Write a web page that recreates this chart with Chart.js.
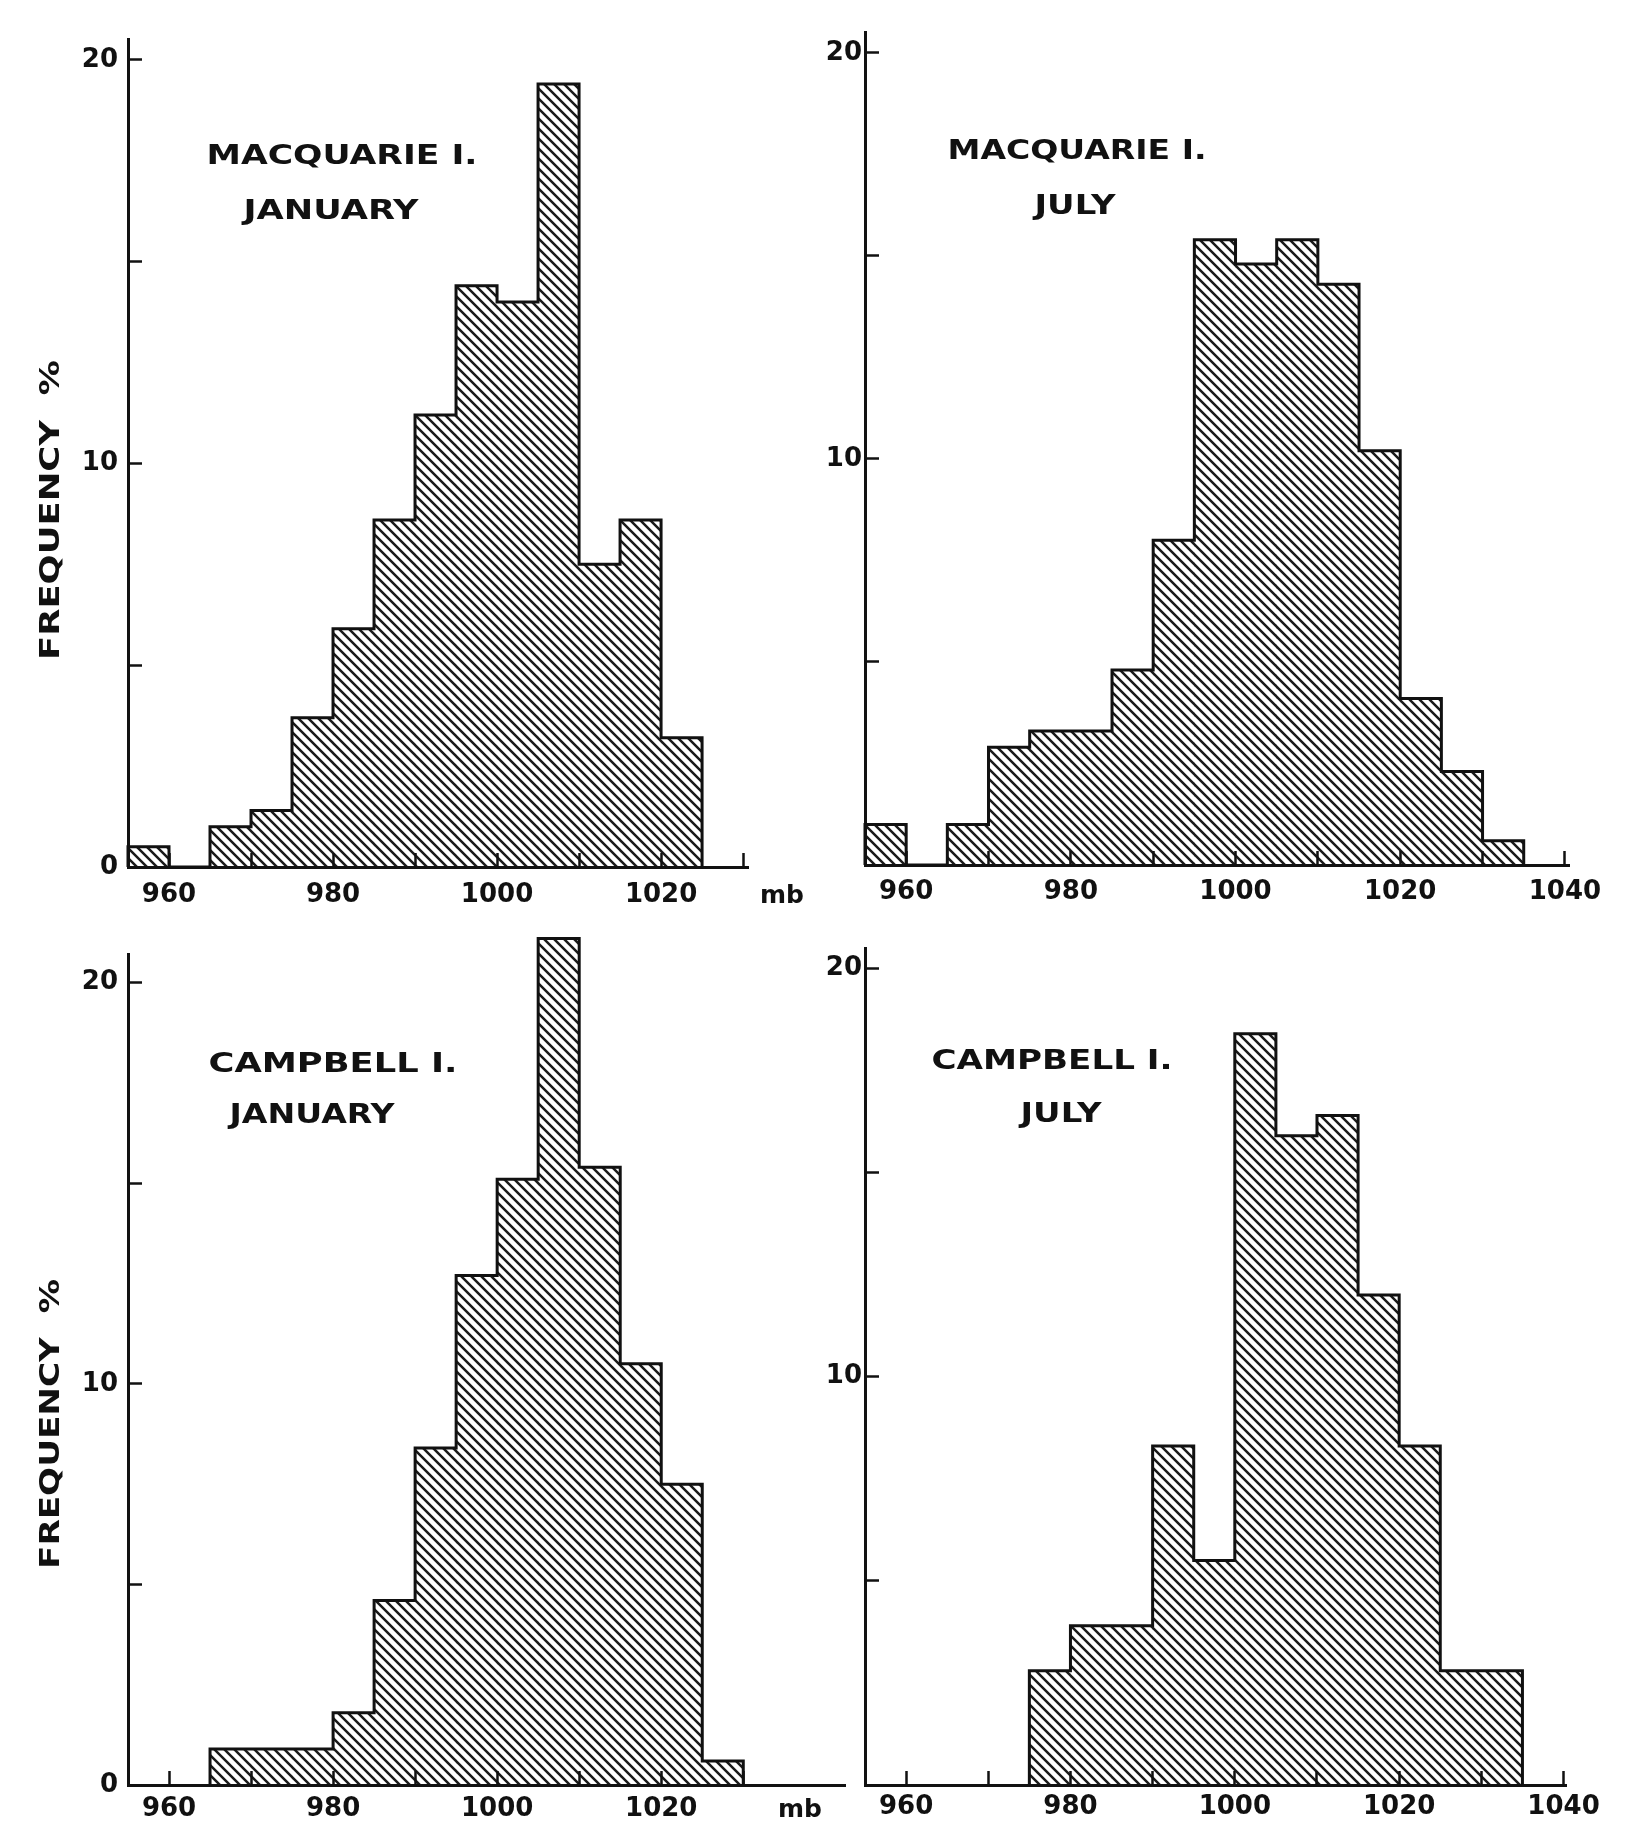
<!DOCTYPE html>
<html>
<head>
<meta charset="utf-8">
<script src="https://cdn.jsdelivr.net/npm/chart.js@4.4.0/dist/chart.umd.min.js"></script>
<style>
    html, body { margin: 0; padding: 0; background: #fff; }
    body { position: relative; width: 1639px; height: 1827px; overflow: hidden; }
    .panel { position: absolute; }
</style>
</head>
<body>
<div class="panel" id="w-mj"><canvas id="c-mj"></canvas></div>
<div class="panel" id="w-mu"><canvas id="c-mu"></canvas></div>
<div class="panel" id="w-cj"><canvas id="c-cj"></canvas></div>
<div class="panel" id="w-cu"><canvas id="c-cu"></canvas></div>
<script>
// --- Data: bin starts (mb, bins 5 mb wide) and frequency % ---
const BIN = 5;

const macquarieJanBins = [955, 960, 965, 970, 975, 980, 985, 990, 995, 1000, 1005, 1010, 1015, 1020];
const macquarieJanFreq = [0.5, 0, 1.0, 1.4, 3.7, 5.9, 8.6, 11.2, 14.4, 14.0, 19.4, 7.5, 8.6, 3.2];

const macquarieJulBins = [955, 960, 965, 970, 975, 980, 985, 990, 995, 1000, 1005, 1010, 1015, 1020, 1025, 1030];
const macquarieJulFreq = [1.0, 0, 1.0, 2.9, 3.3, 3.3, 4.8, 8.0, 15.4, 14.8, 15.4, 14.3, 10.2, 4.1, 2.3, 0.6];

const campbellJanBins = [965, 970, 975, 980, 985, 990, 995, 1000, 1005, 1010, 1015, 1020, 1025];
const campbellJanFreq = [0.9, 0.9, 0.9, 1.8, 4.6, 8.4, 12.7, 15.1, 21.1, 15.4, 10.5, 7.5, 0.6];

const campbellJulBins = [975, 980, 985, 990, 995, 1000, 1005, 1010, 1015, 1020, 1025, 1030];
const campbellJulFreq = [2.8, 3.9, 3.9, 8.3, 5.5, 18.4, 15.9, 16.4, 12.0, 8.3, 2.8, 2.8];

// --- Tick values ---
const xTicksJan = [960, 970, 980, 990, 1000, 1010, 1020, 1030];
const xTicksJul = [960, 970, 980, 990, 1000, 1010, 1020, 1030, 1040];
const xLabelled = [960, 980, 1000, 1020, 1040];
const yTicks = [0, 5, 10, 15, 20];

const ink = '#111';
const tickFont = { family: 'DejaVu Sans', size: 26, weight: 'bold' };
const textFont = 'bold 27px "DejaVu Sans"';

// diagonal hatching used to fill the bars
function makeHatch() {
    const c = document.createElement('canvas');
    c.width = 10; c.height = 10;
    const g = c.getContext('2d');
    g.strokeStyle = '#1a1a1a';
    g.lineWidth = 2.5;
    g.beginPath();
    g.moveTo(-2, -2); g.lineTo(12, 12);
    g.moveTo(-2, 8); g.lineTo(2, 12);
    g.moveTo(8, -2); g.lineTo(12, 2);
    g.stroke();
    return g.createPattern(c, 'repeat');
}
const hatch = makeHatch();

// writes a label stretched sideways to a given width (wide lettering of the original)
function wideText(ctx, text, w) {
    const natural = ctx.measureText(text).width;
    const sx = w ? w / natural : 1;
    ctx.scale(sx, 1);
    ctx.textAlign = 'center';
    ctx.fillText(text, 0, 0);
}

function textPlugin(p) {
    return {
        id: 'panelText',
        afterDraw(chart) {
            const ctx = chart.ctx;
            ctx.save();
            ctx.fillStyle = ink;
            ctx.font = textFont;
            ctx.textBaseline = 'middle';
            p.texts.forEach(it => {
                ctx.save();
                ctx.translate(it.x - p.box.left, it.y - p.box.top);
                if (it.rot) ctx.rotate(-Math.PI / 2);
                if (it.font) ctx.font = it.font;
                wideText(ctx, it.t, it.w);
                ctx.restore();
            });
            ctx.restore();
        }
    };
}

// --- Panels (page pixel layout) ---
const panels = [
    {
        id: 'mj', bins: macquarieJanBins, freq: macquarieJanFreq, xTicks: xTicksJan, yLabels: [0, 10, 20],
        box: { left: 0, top: 0, width: 830, height: 915 },
        area: { left: 128, top: 22, right: 748, bottom: 867 },
        xMax: 1030.6, yMax: 20.5, xPad: 27, yPad: 24,
        texts: [
            { t: 'MACQUARIE I.', x: 342, y: 157, w: 271 },
            { t: 'JANUARY', x: 331, y: 212, w: 175 },
            { t: 'mb', x: 782, y: 896, font: 'bold 25px "DejaVu Sans"' },
            { t: 'FREQUENCY  %', x: 52, y: 510, w: 300, rot: true }
        ]
    },
    {
        id: 'mu', bins: macquarieJulBins, freq: macquarieJulFreq, xTicks: xTicksJul, yLabels: [10, 20],
        box: { left: 790, top: 0, width: 849, height: 915 },
        area: { left: 865, top: 21, right: 1569, bottom: 865 },
        xMax: 1040.5, yMax: 20.5, xPad: 26, yPad: 17,
        texts: [
            { t: 'MACQUARIE I.', x: 1077, y: 152, w: 259 },
            { t: 'JULY', x: 1075, y: 207, w: 81 }
        ]
    },
    {
        id: 'cj', bins: campbellJanBins, freq: campbellJanFreq, xTicks: xTicksJan, yLabels: [0, 10, 20],
        box: { left: 0, top: 915, width: 850, height: 912 },
        area: { left: 128, top: 943, right: 845, bottom: 1785 },
        xMax: 1042.4, yMax: 20.7, xPad: 23, yPad: 24,
        texts: [
            { t: 'CAMPBELL I.', x: 333, y: 1065, w: 249 },
            { t: 'JANUARY', x: 312, y: 1116, w: 165 },
            { t: 'mb', x: 800, y: 1810, font: 'bold 25px "DejaVu Sans"' },
            { t: 'FREQUENCY  %', x: 52, y: 1424, w: 290, rot: true }
        ]
    },
    {
        id: 'cu', bins: campbellJulBins, freq: campbellJulFreq, xTicks: xTicksJul, yLabels: [10, 20],
        box: { left: 790, top: 915, width: 849, height: 912 },
        area: { left: 865, top: 948, right: 1566, bottom: 1785 },
        xMax: 1040.3, yMax: 20.5, xPad: 21, yPad: 17,
        texts: [
            { t: 'CAMPBELL I.', x: 1052, y: 1062, w: 241 },
            { t: 'JULY', x: 1061, y: 1115, w: 81 }
        ]
    }
];

function makeChart(p) {
    const wrap = document.getElementById('w-' + p.id);
    wrap.style.left = p.box.left + 'px';
    wrap.style.top = p.box.top + 'px';
    const canvas = document.getElementById('c-' + p.id);
    canvas.width = p.box.width;
    canvas.height = p.box.height;
    canvas.style.width = p.box.width + 'px';
    canvas.style.height = p.box.height + 'px';

    const bars = p.bins.map((b, i) => ({ x: b + BIN / 2, y: p.freq[i] }));
    const outline = [{ x: p.bins[0], y: 0 }];
    p.bins.forEach((b, i) => outline.push({ x: b, y: p.freq[i] }));
    outline.push({ x: p.bins[p.bins.length - 1] + BIN, y: 0 });

    const axisGrid = {
        display: true, drawOnChartArea: false, drawTicks: true,
        tickLength: -14, tickWidth: 2.5, tickColor: ink, z: 1, offset: false
    };
    const axisBorder = { display: true, color: ink, width: 3, z: 1 };

    new Chart(canvas.getContext('2d'), {
        type: 'bar',
        data: {
            datasets: [
                {
                    type: 'line',
                    data: outline,
                    stepped: 'before',
                    borderColor: ink,
                    borderWidth: 3,
                    borderJoinStyle: 'miter',
                    pointRadius: 0,
                    fill: false,
                    clip: false,
                    order: 0
                },
                {
                    data: bars,
                    backgroundColor: hatch,
                    borderWidth: 0,
                    barPercentage: 1,
                    categoryPercentage: 1,
                    clip: false,
                    order: 1
                }
            ]
        },
        options: {
            responsive: false,
            animation: false,
            events: [],
            layout: {
                autoPadding: false,
                padding: {
                    left: 0, bottom: 0,
                    top: p.area.top - p.box.top,
                    right: p.box.left + p.box.width - p.area.right
                }
            },
            plugins: { legend: { display: false }, tooltip: { enabled: false } },
            scales: {
                x: {
                    type: 'linear', min: 955, max: p.xMax, offset: false, bounds: 'data',
                    afterBuildTicks: s => { s.ticks = p.xTicks.map(v => ({ value: v })); },
                    afterFit: s => { s.height = p.box.top + p.box.height - p.area.bottom; },
                    grid: axisGrid,
                    border: axisBorder,
                    ticks: {
                        autoSkip: false, maxRotation: 0, padding: p.xPad, color: ink, font: tickFont,
                        callback: v => xLabelled.includes(v) ? String(v) : ''
                    }
                },
                y: {
                    type: 'linear', min: 0, max: p.yMax, bounds: 'data',
                    afterBuildTicks: s => { s.ticks = yTicks.map(v => ({ value: v })); },
                    afterFit: s => { s.width = p.area.left - p.box.left; },
                    grid: axisGrid,
                    border: axisBorder,
                    ticks: {
                        padding: p.yPad, color: ink, font: tickFont,
                        callback: v => p.yLabels.includes(v) ? String(v) : ''
                    }
                }
            }
        },
        plugins: [textPlugin(p)]
    });
}

panels.forEach(makeChart);
</script>
</body>
</html>
